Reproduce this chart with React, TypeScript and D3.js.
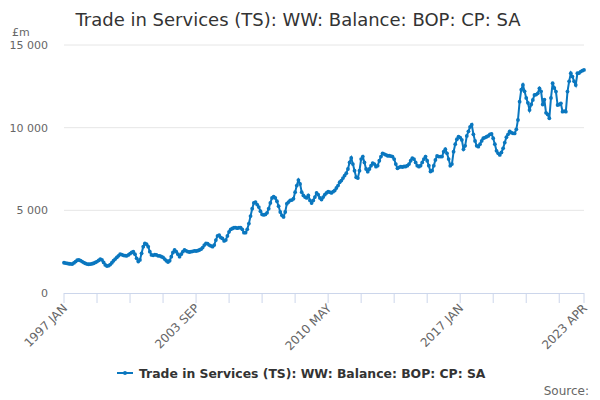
import { useEffect, useRef } from "react"
import * as d3 from "d3"

const monthNames = ["JAN", "FEB", "MAR", "APR", "MAY", "JUN", "JUL", "AUG", "SEP", "OCT", "NOV", "DEC"]
const startYear = 1997

// £m, monthly, 1997 JAN .. 2023 APR
const balance = [
  1830, 1810, 1790, 1770, 1760, 1750, 1820, 1900, 1980, 2000, 1960, 1900, // 1997
  1840, 1790, 1750, 1740, 1750, 1770, 1800, 1850, 1900, 1970, 2050, 2000, // 1998
  1850, 1700, 1630, 1650, 1720, 1830, 1950, 2050, 2150, 2250, 2350, 2320, // 1999
  2280, 2260, 2250, 2300, 2380, 2450, 2500, 2350, 2100, 1900, 2000, 2400, // 2000
  2800, 3000, 2950, 2800, 2500, 2300, 2280, 2320, 2300, 2250, 2250, 2200, // 2001
  2150, 2050, 1950, 1870, 1950, 2200, 2450, 2600, 2500, 2350, 2200, 2350, // 2002
  2500, 2600, 2550, 2500, 2480, 2500, 2520, 2550, 2540, 2560, 2600, 2650, // 2003
  2750, 2900, 3000, 2980, 2900, 2850, 2800, 2900, 3200, 3450, 3500, 3350, // 2004
  3300, 3150, 3200, 3450, 3700, 3850, 3900, 3950, 3950, 3920, 3950, 3950, // 2005
  3850, 3650, 3650, 3850, 4200, 4650, 5100, 5450, 5500, 5350, 5200, 4950, // 2006
  4750, 4720, 4750, 4850, 5100, 5450, 5750, 5830, 5750, 5550, 5250, 4900, // 2007
  4700, 4600, 4900, 5400, 5500, 5600, 5620, 5700, 6100, 6500, 6830, 6600, // 2008
  6100, 5900, 5800, 5750, 5900, 5600, 5440, 5600, 5800, 6050, 5950, 5750, // 2009
  5650, 5800, 5950, 6050, 6130, 6100, 6050, 6130, 6200, 6350, 6500, 6700, // 2010
  6800, 6950, 7100, 7250, 7500, 7900, 8170, 7800, 7400, 7000, 6950, 7400, // 2011
  8100, 8250, 7900, 7500, 7340, 7500, 7700, 7860, 7800, 7640, 7700, 8000, // 2012
  8250, 8450, 8400, 8350, 8300, 8300, 8280, 8250, 8100, 7800, 7540, 7600, // 2013
  7640, 7620, 7650, 7650, 7700, 7800, 8000, 8150, 8100, 7900, 7700, 7640, // 2014
  7700, 7900, 8100, 8250, 8000, 7700, 7350, 7400, 7700, 8050, 8290, 8250, // 2015
  8250, 8250, 8550, 8700, 8450, 8100, 7700, 7800, 8550, 9000, 9300, 9460, // 2016
  9400, 9260, 8700, 8900, 9500, 9780, 10050, 10180, 9600, 9200, 8900, 8850, // 2017
  9000, 9200, 9360, 9400, 9450, 9500, 9600, 9620, 9360, 9000, 8600, 8450, // 2018
  8350, 8500, 8750, 9100, 9420, 9600, 9780, 9700, 9660, 9650, 9900, 10470, // 2019
  11570, 12300, 12580, 12200, 11800, 11500, 11070, 11400, 11680, 11980, 12000, 12080, // 2020
  12380, 12200, 11400, 11700, 10900, 10800, 10570, 11800, 12690, 12400, 12180, 11370, // 2021
  11400, 11470, 10970, 11000, 10970, 12180, 12800, 13290, 13090, 12800, 12580, 13290, // 2022
  13300, 13390, 13450, 13490, // 2023
]

const yTicks = [0, 5000, 10000, 15000]
const tickEvery = 20
const labelEvery = 80
const seriesName = "Trade in Services (TS): WW: Balance: BOP: CP: SA"
const title = "Trade in Services (TS): WW: Balance: BOP: CP: SA"

const font = "'DejaVu Sans', Verdana, sans-serif"
const blue = "#0a77bf"

function monthLabel(i: number) {
  return `${startYear + Math.floor(i / 12)} ${monthNames[i % 12]}`
}

export default function App() {
  const svgRef = useRef<SVGSVGElement>(null)
  const width = 600
  const height = 400

  useEffect(() => {
    document.body.style.margin = "0"
    if (!svgRef.current) return
    const svg = d3.select(svgRef.current)
    svg.selectAll("*").remove()

    const margin = { top: 45, right: 16, bottom: 107, left: 64 }
    const last = balance.length - 1

    const x = d3.scaleLinear()
      .domain([0, last])
      .range([margin.left, width - margin.right])

    const y = d3.scaleLinear()
      .domain([0, 15000])
      .range([height - margin.bottom, margin.top])

    // title
    svg.append("text")
      .attr("x", 298)
      .attr("y", 26)
      .attr("text-anchor", "middle")
      .attr("font-family", font)
      .attr("font-size", 18)
      .attr("fill", "#333333")
      .text(title)

    svg.append("text")
      .attr("x", 12)
      .attr("y", 36)
      .attr("font-family", font)
      .attr("font-size", 11)
      .attr("fill", "#666666")
      .text("£m")

    // grid + y labels
    const grid = svg.append("g")
    yTicks.forEach(t => {
      if (t > 0) {
        grid.append("line")
          .attr("x1", margin.left)
          .attr("x2", width - margin.right)
          .attr("y1", y(t))
          .attr("y2", y(t))
          .attr("stroke", "#e6e6e6")
          .attr("stroke-width", 1)
      }
      grid.append("text")
        .attr("x", 48)
        .attr("y", y(t) + 4)
        .attr("text-anchor", "end")
        .attr("font-family", font)
        .attr("font-size", 11)
        .attr("fill", "#666666")
        .text(d3.format(",")(t).replace(/,/g, " "))
    })

    // x axis
    const axis = svg.append("g")
    const y0 = y(0)
    axis.append("line")
      .attr("x1", margin.left)
      .attr("x2", width - margin.right)
      .attr("y1", y0 + 0.5)
      .attr("y2", y0 + 0.5)
      .attr("stroke", "#ccd6eb")

    const tickIdx = d3.range(0, last, tickEvery).concat([last])
    tickIdx.forEach(i => {
      axis.append("line")
        .attr("x1", x(i))
        .attr("x2", x(i))
        .attr("y1", y0)
        .attr("y2", y0 + 10)
        .attr("stroke", "#ccd6eb")
    })

    const labelIdx = d3.range(0, last, labelEvery).concat([last])
    labelIdx.forEach(i => {
      axis.append("text")
        .attr("transform", `translate(${x(i) + 4},${y0 + 16}) rotate(-45)`)
        .attr("text-anchor", "end")
        .attr("font-family", font)
        .attr("font-size", 12)
        .attr("fill", "#666666")
        .text(monthLabel(i))
    })

    // series
    const line = d3.line<number>()
      .x((_, i) => x(i))
      .y(d => y(d))

    svg.append("path")
      .datum(balance)
      .attr("d", line)
      .attr("fill", "none")
      .attr("stroke", blue)
      .attr("stroke-width", 2)

    svg.append("g")
      .selectAll("circle")
      .data(balance)
      .join("circle")
      .attr("cx", (_, i) => x(i))
      .attr("cy", d => y(d))
      .attr("r", 1.9)
      .attr("fill", blue)

    // legend
    const lg = svg.append("g").attr("transform", "translate(117,373)")
    lg.append("line")
      .attr("x1", 0)
      .attr("x2", 16)
      .attr("y1", 0)
      .attr("y2", 0)
      .attr("stroke", blue)
      .attr("stroke-width", 2)
    lg.append("circle")
      .attr("cx", 8)
      .attr("cy", 0)
      .attr("r", 2)
      .attr("fill", blue)
    lg.append("text")
      .attr("x", 22)
      .attr("y", 4.5)
      .attr("font-family", font)
      .attr("font-size", 12.4)
      .attr("font-weight", "bold")
      .attr("fill", "#333333")
      .text(seriesName)

    svg.append("text")
      .attr("x", 589)
      .attr("y", 395)
      .attr("text-anchor", "end")
      .attr("font-family", font)
      .attr("font-size", 12)
      .attr("fill", "#666666")
      .text("Source:")
  }, [])

  return <svg ref={svgRef} width={width} height={height} style={{ display: "block" }} />
}
